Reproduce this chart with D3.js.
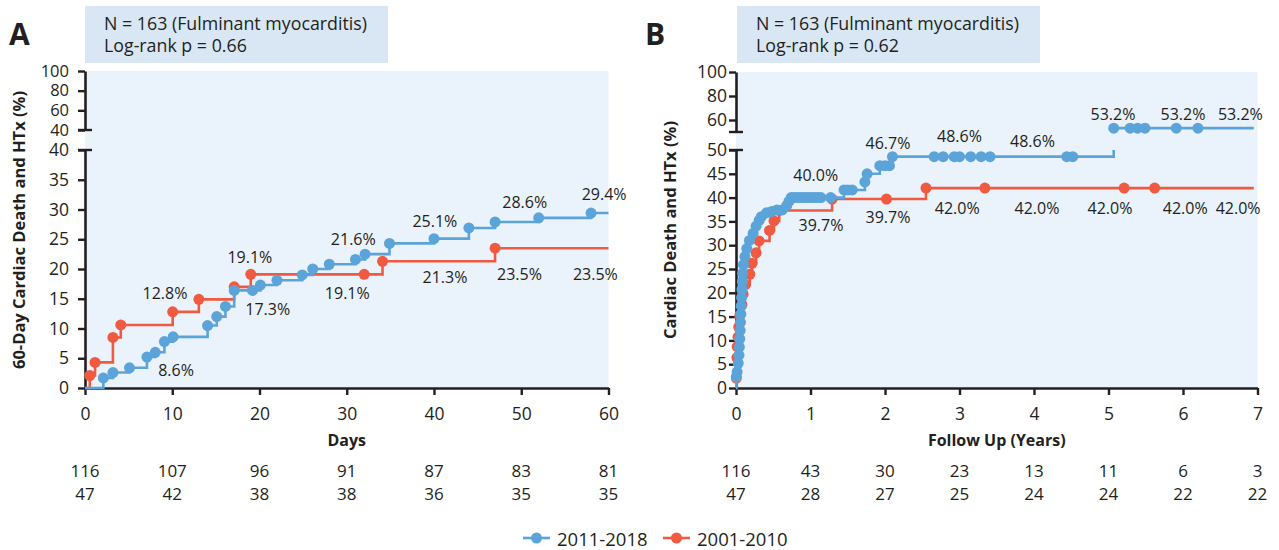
<!DOCTYPE html>
<html>
<head>
<meta charset="utf-8">
<script src="https://cdn.jsdelivr.net/npm/d3@7"></script>
<style>
  body { margin: 0; background: #fff; }
  svg { display: block; font-family: "Open Sans", Lato, sans-serif; }
</style>
</head>
<body>
<svg id="chart" width="1279" height="550"></svg>
<script>
// ---------------- data ----------------
const seriesNames = ["2011-2018", "2001-2010"];
const seriesColors = ["#5ba4da", "#ef5a40"];

// Panel A: 60-day cumulative cardiac death / HTx, [day, %]
const acuteRecent = [
  [0, 0], [2.1, 1.7], [3.2, 2.6], [5.1, 3.4], [7.1, 5.2], [8.05, 6.0], [9.1, 7.8],
  [10.1, 8.6], [14.05, 10.5], [15.1, 12.0], [16.1, 13.7], [17.1, 16.4], [19.2, 16.4],
  [20.1, 17.3], [22.0, 18.1], [24.9, 19.0], [26.1, 20.0], [28.0, 20.8], [31.0, 21.6],
  [32.1, 22.5], [34.9, 24.3], [40.0, 25.1], [44.0, 26.9], [47.0, 27.9], [52.0, 28.6],
  [58.0, 29.4], [60, 29.4]
];
const acuteEarly = [
  [0, 0], [0.55, 2.1], [1.15, 4.3], [3.2, 8.5], [4.1, 10.6], [10.05, 12.8], [13.05, 14.9],
  [17.1, 17.0], [19.0, 19.1], [32.0, 19.1], [34.1, 21.3], [47.0, 23.5], [60, 23.5]
];

// Panel B: long-term cumulative cardiac death / HTx, [year, %]
const longRecent = [
  [0, 0], [0.004, 2.4], [0.015, 3.4], [0.03, 5.2], [0.04, 6.9], [0.045, 8.6], [0.05, 10.3],
  [0.055, 12.1], [0.06, 13.8], [0.065, 15.5], [0.07, 17.2], [0.075, 19.0], [0.08, 20.7],
  [0.085, 22.4], [0.09, 24.1], [0.1, 25.9], [0.12, 27.6], [0.145, 29.3], [0.18, 31.0],
  [0.23, 32.5], [0.27, 34.0], [0.31, 35.2], [0.34, 36.0], [0.41, 36.8], [0.48, 37.1],
  [0.55, 37.4], [0.62, 37.4], [0.68, 38.3], [0.71, 39.2], [0.74, 40.0], [0.78, 40.0],
  [0.82, 40.0], [0.86, 40.0], [0.9, 40.0], [0.94, 40.0], [0.98, 40.0], [1.02, 40.0],
  [1.06, 40.0], [1.1, 40.0], [1.14, 40.0], [1.27, 40.0], [1.45, 41.6], [1.5, 41.6],
  [1.56, 41.6], [1.73, 43.3], [1.76, 45.0], [1.93, 46.7], [2.0, 46.7], [2.06, 46.7],
  [2.1, 48.6], [2.66, 48.6], [2.78, 48.6], [2.93, 48.6], [3.0, 48.6], [3.15, 48.6],
  [3.29, 48.6], [3.41, 48.6], [4.44, 48.6], [4.52, 48.6], [5.07, 53.2], [5.29, 53.2],
  [5.39, 53.2], [5.49, 53.2], [5.91, 53.2], [6.2, 53.2], [6.95, 53.2]
];
const longEarly = [
  [0, 0], [0.004, 2.1], [0.012, 6.4], [0.016, 8.7], [0.027, 10.7], [0.036, 12.8],
  [0.05, 15.2], [0.08, 17.5], [0.095, 19.7], [0.125, 21.7], [0.185, 23.9], [0.215, 26.2],
  [0.27, 28.4], [0.31, 30.9], [0.45, 33.1], [0.51, 35.1], [0.58, 37.3], [1.29, 39.7],
  [2.02, 39.7], [2.55, 42.0], [3.34, 42.0], [5.21, 42.0], [5.62, 42.0], [6.95, 42.0]
];

// axis ticks
const acuteDayTicks = [0, 10, 20, 30, 40, 50, 60];
const longYearTicks = [0, 1, 2, 3, 4, 5, 6, 7];
const acuteLowerTicks = [0, 5, 10, 15, 20, 25, 30, 35, 40];
const acuteUpperTicks = [40, 60, 80, 100];
const longLowerTicks = [0, 5, 10, 15, 20, 25, 30, 35, 40, 45, 50];
const longUpperTicks = [60, 80, 100];

// numbers at risk under each x tick
const acuteAtRiskRecent = [116, 107, 96, 91, 87, 83, 81];
const acuteAtRiskEarly = [47, 42, 38, 38, 36, 35, 35];
const longAtRiskRecent = [116, 43, 30, 23, 13, 11, 6, 3];
const longAtRiskEarly = [47, 28, 27, 25, 24, 24, 22, 22];

// percentage call-outs: time of the labelled mark, and where the text sits (data units)
const acuteLabelsRecent = [
  { at: 10.1, x: 10.43, y: 2.1 }, { at: 20.1, x: 20.94, y: 12.35 },
  { at: 31.0, x: 30.75, y: 24.1 }, { at: 40.0, x: 40.1, y: 27.0 },
  { at: 52.0, x: 50.4, y: 30.2 }, { at: 58.0, x: 59.5, y: 31.6 }
];
const acuteLabelsEarly = [
  { at: 10.05, x: 9.17, y: 15.0 }, { at: 19.0, x: 18.9, y: 21.0 },
  { at: 32.0, x: 30.06, y: 14.9 }, { at: 34.1, x: 41.26, y: 17.7 },
  { at: 47.0, x: 49.8, y: 18.2 }, { at: 60, x: 58.5, y: 18.2 }
];
const longLabelsRecent = [
  { at: 1.0, x: 1.07, y: 43.4 }, { at: 1.93, x: 2.04, y: 50.25 },
  { at: 3.0, x: 3.0, y: 51.6 }, { at: 4.0, x: 3.98, y: 50.6 },
  { at: 5.07, x: 5.06, y: 60.4 }, { at: 6.0, x: 6.0, y: 60.4 }, { at: 6.95, x: 6.77, y: 60.4 }
];
const longLabelsEarly = [
  { at: 1.29, x: 1.14, y: 32.9 }, { at: 2.02, x: 2.04, y: 34.7 },
  { at: 3.0, x: 2.97, y: 36.6 }, { at: 4.0, x: 4.04, y: 36.6 },
  { at: 5.0, x: 5.02, y: 36.6 }, { at: 6.0, x: 6.03, y: 36.6 }, { at: 6.95, x: 6.74, y: 36.6 }
];

// ---------------- drawing ----------------
const INK = "#231f20";
const FONT = "'Open Sans', Lato, sans-serif";
const svg = d3.select("#chart");

// value of a step curve at time t
function stepValue(pts, t) {
  let v = 0;
  for (const p of pts) { if (p[0] <= t + 1e-9) v = p[1]; }
  return v;
}

function drawPanel(cfg) {
  const g = svg.append("g");
  const x = d3.scaleLinear().domain(cfg.xDomain).range(cfg.xRange);
  const yLo = d3.scaleLinear().domain([0, cfg.brk]).range([cfg.yBottom, cfg.yLoTop]);
  const yHi = d3.scaleLinear().domain([cfg.brk, 100]).range([cfg.yHiBottom, cfg.yTop]);
  const y = v => (v <= cfg.brk ? yLo(v) : yHi(v));
  const x0 = cfg.xRange[0];

  // plot background
  g.append("rect")
    .attr("x", x0).attr("y", cfg.yTop)
    .attr("width", cfg.xRange[1] - x0).attr("height", cfg.yBottom - cfg.yTop)
    .attr("fill", "#eaf2fb");

  // heading box
  g.append("rect")
    .attr("x", cfg.boxX).attr("y", 6).attr("width", 303).attr("height", 57)
    .attr("fill", "#d9e7f5");
  g.append("text").attr("x", cfg.boxX + 19).attr("y", 29.5)
    .attr("font-size", 17.8).attr("fill", INK).text("N = 163 (Fulminant myocarditis)");
  g.append("text").attr("x", cfg.boxX + 19).attr("y", 52)
    .attr("font-size", 17.8).attr("fill", INK).text(cfg.pText);

  // panel letter
  g.append("text").attr("x", cfg.letterX).attr("y", 45)
    .attr("font-size", 30).attr("font-weight", 700).attr("fill", INK).text(cfg.letter);

  // axes
  const styleAxis = size => sel => {
    sel.selectAll("path.domain").attr("stroke", INK).attr("stroke-width", 2.6);
    sel.selectAll(".tick line").attr("stroke", INK).attr("stroke-width", 2.4);
    sel.selectAll(".tick text").attr("fill", INK).attr("font-size", size)
      .attr("font-family", FONT);
  };
  g.append("g").attr("transform", `translate(0,${cfg.yBottom})`)
    .call(d3.axisBottom(x).tickValues(cfg.xTicks).tickFormat(d3.format("d"))
      .tickSize(7).tickSizeOuter(0).tickPadding(13))
    .call(styleAxis(17.5));
  g.append("g").attr("transform", `translate(${x0},0)`)
    .call(d3.axisLeft(yLo).tickValues(cfg.loTicks).tickSize(7).tickSizeOuter(0).tickPadding(cfg.yPad))
    .call(styleAxis(17.5));
  g.append("g").attr("transform", `translate(${x0},0)`)
    .call(d3.axisLeft(yHi).tickValues(cfg.hiTicks).tickSize(7).tickSizeOuter(0).tickPadding(cfg.yPad))
    .call(styleAxis(cfg.hiTickSize));
  // axis break caps
  [yLo(cfg.brk), yHi(cfg.brk)].forEach(yy => {
    g.append("line").attr("x1", x0 - 7).attr("x2", x0 + 7)
      .attr("y1", yy).attr("y2", yy).attr("stroke", INK).attr("stroke-width", 2.4);
  });

  // axis titles
  g.append("text")
    .attr("transform", `translate(${cfg.yTitleX},${cfg.yTitleY}) rotate(-90)`)
    .attr("text-anchor", "middle").attr("font-size", 16.5).attr("font-weight", 700)
    .attr("fill", INK).text(cfg.yTitle);
  g.append("text")
    .attr("x", (cfg.xRange[0] + cfg.xRange[1]) / 2).attr("y", 446)
    .attr("text-anchor", "middle").attr("font-size", 16).attr("font-weight", 700)
    .attr("fill", INK).text(cfg.xTitle);

  // numbers at risk
  [[cfg.riskRecent, 476.5], [cfg.riskEarly, 499.5]].forEach(([row, yy]) => {
    g.append("g").selectAll("text").data(row).join("text")
      .attr("x", (d, i) => x(cfg.xTicks[i])).attr("y", yy)
      .attr("text-anchor", "middle").attr("font-size", 17).attr("fill", INK)
      .text(d => d);
  });

  // step curves: the part above the break is drawn on the upper scale
  const lineLo = d3.line().curve(d3.curveStepAfter).x(d => x(d[0])).y(d => yLo(d[1]));
  const lineHi = d3.line().curve(d3.curveStepAfter).x(d => x(d[0])).y(d => yHi(d[1]));
  // older cohort first, recent cohort on top
  [[cfg.early, seriesColors[1]], [cfg.recent, seriesColors[0]]].forEach(([pts, col]) => {
    const lower = [], upper = [];
    pts.forEach(p => {
      if (p[1] <= cfg.brk) lower.push(p);
      else { if (!upper.length) lower.push([p[0], cfg.brk]); upper.push(p); }
    });
    const sg = g.append("g");
    sg.append("path").attr("d", lineLo(lower)).attr("fill", "none")
      .attr("stroke", col).attr("stroke-width", 2.6);
    if (upper.length) {
      sg.append("path").attr("d", lineHi(upper)).attr("fill", "none")
        .attr("stroke", col).attr("stroke-width", 2.6);
    }
    sg.selectAll("circle").data(pts.slice(1, -1)).join("circle")
      .attr("cx", d => x(d[0])).attr("cy", d => y(d[1])).attr("r", 5.5)
      .attr("fill", col);
  });

  // percentage call-outs
  [[cfg.labelsRecent, cfg.recent], [cfg.labelsEarly, cfg.early]].forEach(([labs, pts]) => {
    g.append("g").selectAll("text").data(labs).join("text")
      .attr("x", d => x(d.x))
      .attr("y", d => (d.y <= cfg.brk + 5 ? yLo(d.y) : yHi(d.y)))
      .attr("text-anchor", "middle").attr("font-size", 16).attr("fill", INK)
      .text(d => stepValue(pts, d.at).toFixed(1) + "%");
  });
}

drawPanel({
  letter: "A", letterX: 9, boxX: 85, pText: "Log-rank p = 0.66",
  xDomain: [0, 60], xRange: [85, 608.5], xTicks: acuteDayTicks,
  brk: 40, yBottom: 388, yLoTop: 150, yHiBottom: 130, yTop: 71,
  loTicks: acuteLowerTicks, hiTicks: acuteUpperTicks, yPad: 9, hiTickSize: 16.5,
  yTitle: "60-Day Cardiac Death and HTx (%)", yTitleX: 25, yTitleY: 230,
  xTitle: "Days",
  riskRecent: acuteAtRiskRecent, riskEarly: acuteAtRiskEarly,
  recent: acuteRecent, early: acuteEarly,
  labelsRecent: acuteLabelsRecent, labelsEarly: acuteLabelsEarly
});

drawPanel({
  letter: "B", letterX: 645, boxX: 737, pText: "Log-rank p = 0.62",
  xDomain: [0, 7], xRange: [736, 1257.5], xTicks: longYearTicks,
  brk: 50, yBottom: 388, yLoTop: 150, yHiBottom: 132, yTop: 72,
  loTicks: longLowerTicks, hiTicks: longUpperTicks, yPad: 2, hiTickSize: 17.5,
  yTitle: "Cardiac Death and HTx (%)", yTitleX: 676, yTitleY: 230,
  xTitle: "Follow Up (Years)",
  riskRecent: longAtRiskRecent, riskEarly: longAtRiskEarly,
  recent: longRecent, early: longEarly,
  labelsRecent: longLabelsRecent, labelsEarly: longLabelsEarly
});

// legend
const legend = svg.append("g");
const legendX = [523, 663];
seriesNames.forEach((name, i) => {
  const lx = legendX[i];
  legend.append("line").attr("x1", lx).attr("x2", lx + 27).attr("y1", 538).attr("y2", 538)
    .attr("stroke", seriesColors[i]).attr("stroke-width", 2.6);
  legend.append("circle").attr("cx", lx + 13.5).attr("cy", 538).attr("r", 5.5)
    .attr("fill", seriesColors[i]);
  legend.append("text").attr("x", lx + 34).attr("y", 545.5)
    .attr("font-size", 18.5).attr("fill", INK).text(name);
});
</script>
</body>
</html>
